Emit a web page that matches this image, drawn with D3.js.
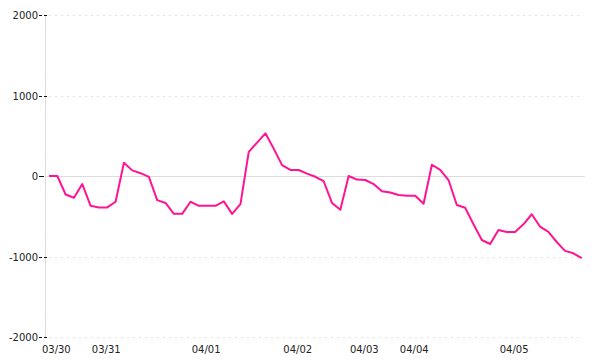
<!DOCTYPE html>
<meta charset="utf-8">
<script src="https://d3js.org/d3.v7.min.js"></script>
<style>
  body { margin: 0; background: #fff; }
  text { font-family: "DejaVu Sans", sans-serif; font-size: 10px; fill: #222; }
</style>
<div id="chart"></div>
<script>

// values per sample (65 samples across 03/30 - 04/05)
var values = [
  0, 0, -230, -270, -100, -370, -390, -390, -320, 165,
  70, 35, -10, -300, -335, -470, -470, -320, -370, -370,
  -370, -315, -470, -350, 300, 415, 530, 340, 135, 75,
  75, 30, -10, -65, -335, -420, 0, -45, -50, -100,
  -190, -205, -235, -245, -245, -345, 140, 75, -50, -360,
  -395, -600, -795, -845, -670, -695, -695, -600, -475, -630,
  -695, -820, -930, -960, -1020
];

// day labels and the sample they sit under
var dayLabels = ["03/30", "03/31", "04/01", "04/02", "04/03", "04/04", "04/05"];
var dayIndex = [1, 7, 19, 30, 38, 44, 56];

var yTicks = [-2000, -1000, 0, 1000, 2000];

var W = 600, H = 360;
var plotLeft = 45, plotRight = 585, plotTop = 15, plotBottom = 337;

var svg = d3.select("#chart").append("svg")
  .attr("width", W)
  .attr("height", H);

var x = d3.scaleLinear()
  .domain([0, values.length - 1])
  .range([49, 581.7]);

var y = d3.scaleLinear()
  .domain([-2000, 2000])
  .range([plotBottom, plotTop]);

// grid lines (dotted, very light)
svg.append("g").selectAll("line")
  .data(yTicks.filter(function(d) { return d !== 0; }))
  .enter().append("line")
  .attr("x1", plotLeft + 4)
  .attr("x2", plotRight - 2)
  .attr("y1", function(d) { return Math.round(y(d)) + 0.5; })
  .attr("y2", function(d) { return Math.round(y(d)) + 0.5; })
  .attr("stroke", "#e2e2e2")
  .attr("stroke-dasharray", "2,4");

// zero line
svg.append("line")
  .attr("x1", plotLeft)
  .attr("x2", plotRight)
  .attr("y1", Math.round(y(0)) + 0.5)
  .attr("y2", Math.round(y(0)) + 0.5)
  .attr("stroke", "#dcdcdc");

// y axis line
svg.append("line")
  .attr("x1", plotLeft + 0.5)
  .attr("x2", plotLeft + 0.5)
  .attr("y1", plotTop)
  .attr("y2", plotBottom)
  .attr("stroke", "#dcdcdc");

// y ticks + labels
var yt = svg.append("g").selectAll("g")
  .data(yTicks)
  .enter().append("g")
  .attr("transform", function(d) { return "translate(0," + (Math.round(y(d)) + 0.5) + ")"; });

yt.append("line")
  .attr("x1", 39)
  .attr("x2", function(d) { return d === 0 ? 44 : 48; })
  .attr("stroke", "#111")
  .attr("stroke-dasharray", function(d) { return d === 0 ? null : "3,2"; });

yt.append("text")
  .attr("x", 38)
  .attr("dy", "0.35em")
  .attr("text-anchor", "end")
  .text(function(d) { return d; });

// x labels
svg.append("g").selectAll("text")
  .data(dayLabels)
  .enter().append("text")
  .attr("x", function(d, i) { return x(dayIndex[i]) - 1; })
  .attr("y", 353)
  .attr("text-anchor", "middle")
  .text(function(d) { return d; });

// the series line
var line = d3.line()
  .x(function(d, i) { return x(i); })
  .y(function(d) { return y(d); });

svg.append("path")
  .datum(values)
  .attr("d", line)
  .attr("fill", "none")
  .attr("stroke", "#ff1493")
  .attr("stroke-width", 2)
  .attr("stroke-linejoin", "round");

</script>
